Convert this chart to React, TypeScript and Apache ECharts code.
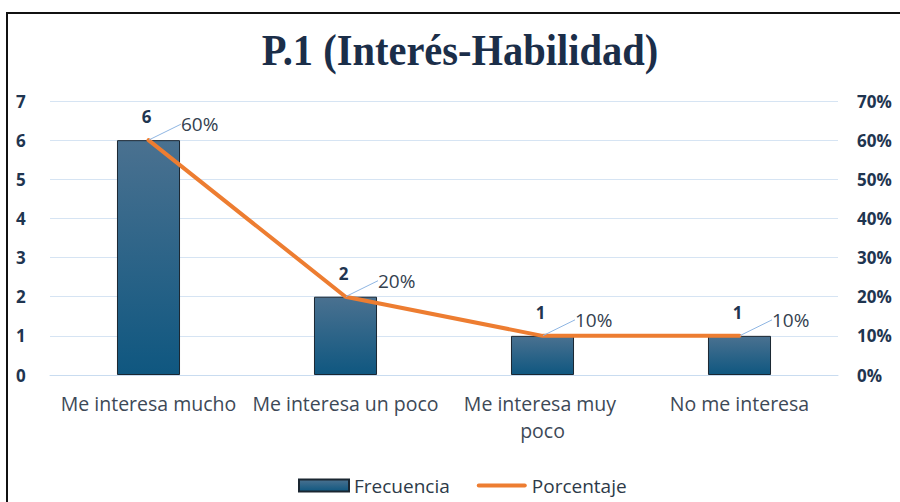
import React, { useEffect, useRef } from "react";
import * as echarts from "echarts";

const categories = ["Me interesa mucho", "Me interesa un poco", "Me interesa muy poco", "No me interesa"];
const frecuencia = [6, 2, 1, 1];
const porcentaje = [0.6, 0.2, 0.1, 0.1];
const titleText = "P.1 (Interés-Habilidad)";

export default function App() {
  const ref = useRef<HTMLDivElement>(null);
  useEffect(() => {
    document.body.style.margin = "0";
    const chart = echarts.init(ref.current!, null, { renderer: "svg" });
    const sans = "'Open Sans', 'Noto Sans', sans-serif";
    chart.setOption({
      animation: false,
      backgroundColor: "#ffffff",
      graphic: [
        {
          type: "rect",
          shape: { x: 7, y: 13, width: 1000, height: 600 },
          style: { fill: "none", stroke: "#111111", lineWidth: 2 },
          silent: true,
        },
        {
          type: "text",
          x: 460,
          y: 50,
          scaleX: 0.9,
          style: {
            text: titleText,
            font: "bold 45px 'Liberation Serif', serif",
            fill: "#1b2e49",
            align: "center",
            verticalAlign: "middle",
          },
          silent: true,
        },
      ],
      legend: {
        left: 293,
        top: 471,
        itemWidth: 50,
        itemHeight: 12,
        itemGap: 27,
        symbolKeepAspect: true,
        textStyle: { fontFamily: sans, fontSize: 19, color: "#2d3a48" },
        data: [
          { name: "Frecuencia", icon: "rect" },
          {
            name: "Porcentaje",
            icon: "path://M2,0 L48,0 A2,2 0 0 1 48,4 L2,4 A2,2 0 0 1 2,0 Z",
            itemStyle: { color: "#ED7D31" },
          },
        ],
      },
      grid: { left: 50, right: 62, top: 101, bottom: 127, containLabel: false },
      xAxis: {
        type: "category",
        data: categories,
        axisTick: { show: false },
        axisLine: { lineStyle: { color: "#c9dcf0", width: 1 } },
        axisLabel: {
          fontFamily: sans,
          fontSize: 19.5,
          color: "#3d4957",
          margin: 15,
          width: 190,
          overflow: "break",
          lineHeight: 27,
          interval: 0,
        },
      },
      yAxis: [
        {
          type: "value",
          min: 0,
          max: 7,
          interval: 1,
          axisLine: { show: false },
          axisTick: { show: false },
          splitLine: { lineStyle: { color: "#d6e4f3", width: 1 } },
          axisLabel: {
            align: "left",
            margin: 34,
            fontFamily: sans,
            fontWeight: "bold",
            fontSize: 17,
            color: "#1f3550",
          },
        },
        {
          type: "value",
          min: 0,
          max: 0.7,
          interval: 0.1,
          axisLine: { show: false },
          axisTick: { show: false },
          splitLine: { show: false },
          axisLabel: {
            align: "left",
            margin: 19,
            fontFamily: sans,
            fontWeight: "bold",
            fontSize: 17,
            color: "#1f3550",
            formatter: (v: number) => Math.round(v * 100) + "%",
          },
        },
      ],
      series: [
        {
          name: "Frecuencia",
          type: "bar",
          data: frecuencia,
          barWidth: "32%",
          itemStyle: {
            color: new echarts.graphic.LinearGradient(0, 0, 0, 1, [
              { offset: 0, color: "#4a7190" },
              { offset: 1, color: "#0f5780" },
            ]),
            borderColor: "#1a2631",
            borderWidth: 1,
          },
          label: {
            show: true,
            position: "top",
            distance: 15,
            offset: [-2, 0],
            fontFamily: sans,
            fontWeight: "bold",
            fontSize: 17,
            color: "#1f3550",
          },
        },
        {
          name: "Porcentaje",
          type: "line",
          yAxisIndex: 1,
          data: porcentaje,
          symbol: "none",
          lineStyle: { color: "#ED7D31", width: 4, cap: "round" },
          itemStyle: { color: "#ED7D31" },
        },
        {
          name: "PorcentajeLabels",
          type: "scatter",
          yAxisIndex: 1,
          data: porcentaje,
          symbolSize: 1,
          itemStyle: { color: "#ED7D31", opacity: 0 },
          silent: true,
          z: 5,
          label: {
            show: true,
            position: "right",
            distance: 0,
            fontFamily: sans,
            fontSize: 19,
            color: "#34414f",
            opacity: 1,
            formatter: (p: any) => Math.round(p.value * 100) + "%",
          },
          labelLayout: { dx: 32, dy: -16 },
          labelLine: { show: true, lineStyle: { color: "#8fb6e3", width: 1, opacity: 1 } },
        },
      ],
    });
    return () => chart.dispose();
  }, []);
  return <div ref={ref} style={{ width: 900, height: 502 }} />;
}
